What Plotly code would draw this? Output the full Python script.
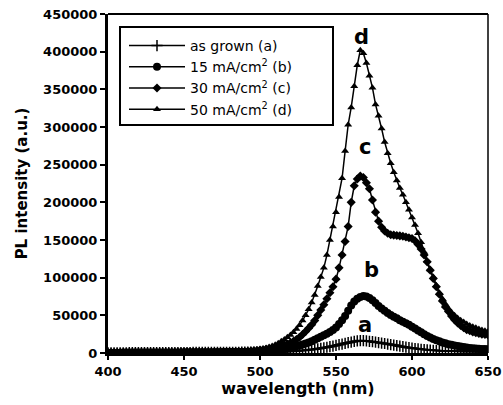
import plotly.graph_objects as go

wavelength = list(range(400, 651, 2))

pl_a = [300, 300, 300, 350, 350, 350, 350, 400, 400, 400,
        400, 450, 450, 450, 450, 500, 500, 500, 500, 550,
        550, 550, 600, 600, 600, 650, 650, 650, 700, 700,
        700, 750, 750, 800, 800, 800, 850, 850, 900, 900,
        950, 950, 1000, 1000, 1050, 1100, 1100, 1150, 1200, 1250,
        1300, 1350, 1400, 1450, 1500, 1550, 1600, 1700, 1800, 1900,
        2000, 2300, 2600, 2900, 3200, 3600, 4000, 4500, 5000, 5600,
        6200, 6900, 7600, 8400, 9200, 10100, 11000, 11900, 12800, 13700,
        14500, 15300, 16000, 16500, 16400, 16000, 15500, 15000, 14400, 13800,
        13200, 12600, 11900, 11200, 10500, 9800, 9100, 8400, 7700, 7100,
        6500, 6000, 5500, 5000, 4600, 4200, 3900, 3600, 3300, 3100,
        2900, 2700, 2550, 2400, 2300, 2200, 2100, 2000, 1950, 1900,
        1850, 1800, 1750, 1700, 1650, 1600]

pl_b = [400, 400, 450, 450, 450, 500, 500, 500, 550, 550,
        550, 600, 600, 600, 650, 650, 650, 700, 700, 700,
        750, 750, 750, 800, 800, 850, 850, 900, 900, 950,
        950, 1000, 1000, 1050, 1050, 1100, 1100, 1150, 1200, 1200,
        1250, 1300, 1300, 1350, 1400, 1450, 1500, 1550, 1600, 1700,
        1800, 2000, 2300, 2600, 3000, 3400, 3900, 4500, 5200, 6000,
        7000, 8000, 9000, 10000, 11200, 12500, 14000, 15500, 17500, 19500,
        21500, 23500, 25500, 28000, 30500, 34000, 38500, 43500, 49000, 56000,
        63000, 68500, 72000, 74500, 75500, 75000, 73000, 70000, 66500, 62500,
        59000, 56000, 53000, 50500, 48000, 46000, 43500, 41500, 39500, 37500,
        35000, 32500, 30000, 27500, 25000, 22500, 20500, 18500, 17000, 15500,
        14000, 12800, 11700, 10800, 10000, 9200, 8500, 7900, 7300, 6800,
        6400, 6000, 5700, 5400, 5200, 5000]

pl_c = [600, 650, 650, 700, 700, 700, 750, 750, 800, 800,
        800, 850, 850, 900, 900, 900, 950, 950, 1000, 1000,
        1000, 1050, 1050, 1100, 1100, 1150, 1150, 1200, 1200, 1250,
        1300, 1300, 1350, 1400, 1400, 1450, 1500, 1550, 1600, 1650,
        1700, 1750, 1800, 1900, 1950,
        2000, 2300, 2600, 3000, 3400, 3800, 4300, 4900, 5600, 6400,
        7300, 8300, 9400, 10600, 12000, 13500, 15500, 18000, 21000, 24500,
        28500, 33000, 37500, 43000, 50000, 57000, 64000, 72000, 80000, 88000,
        98000, 113000, 130000, 148000, 168000, 200000, 222000, 231000, 235000, 233000,
        226000, 218000, 203000, 187000, 175000, 167000, 162000, 159000, 157000, 156500,
        156000, 155500, 155000, 154000, 153000, 152000, 149000, 144000, 138000, 130000,
        121000, 110000, 99000, 88000, 78000, 69000, 61000, 55000, 49000, 44000,
        40000, 36500, 33500, 31000, 29500, 28000, 27000, 26000, 25000, 24500,
        24000]

pl_d = [800, 800, 850, 850, 900, 900, 900, 950, 950, 1000,
        1000, 1000, 1050, 1050, 1100, 1100, 1100, 1150, 1150, 1200,
        1200, 1250, 1250, 1300, 1300, 1350, 1350, 1400, 1400, 1450,
        1500, 1500, 1550, 1600, 1650, 1700, 1750, 1800, 1850, 1900,
        2000, 2050, 2150, 2250, 2350,
        2500, 2800, 3200, 3700, 4300, 5000, 5800, 6800, 8000, 9400,
        11000, 13000, 15500, 18000, 21000, 24000, 27500, 32000, 37000, 43000,
        50000, 58000, 67000, 77000, 89000, 101000, 113000, 130000, 150000, 168000,
        187000, 207000, 232000, 268000, 303000, 326000, 354000, 382000, 402000, 398000,
        385000, 368000, 352000, 330000, 315000, 298000, 280000, 265000, 252000, 240000,
        229000, 219000, 210000, 200000, 190000, 180000, 170000, 159000, 147000, 134000,
        122000, 111000, 101000, 90000, 80000, 72000, 65000, 59000, 54000, 50000,
        46500, 43500, 41000, 38500, 36500, 35000, 33500, 32000, 30500, 29500,
        28500]

series_names = ["as grown (a)", "15 mA/cm<sup>2</sup> (b)",
                "30 mA/cm<sup>2</sup> (c)", "50 mA/cm<sup>2</sup> (d)"]
curve_labels = ["a", "b", "c", "d"]
label_x = [569, 573.5, 569, 567]
label_y = [37000, 110000, 273000, 419000]

symbols = ["cross-thin", "circle", "diamond", "triangle-up"]
sizes = [8, 8, 7, 7]

fig = go.Figure()
for name, ys, sym, sz in zip(series_names, [pl_a, pl_b, pl_c, pl_d], symbols, sizes):
    fig.add_trace(go.Scatter(
        x=wavelength, y=ys, name=name, mode="lines+markers",
        line=dict(color="black", width=1.5),
        marker=dict(symbol=sym, size=sz, color="black",
                    line=dict(color="black", width=1.5 if sym == "cross-thin" else 0)),
    ))

for t, x, y in zip(curve_labels, label_x, label_y):
    fig.add_annotation(x=x, y=y, text=t, showarrow=False,
                       font=dict(family="DejaVu Sans", size=21, color="black", weight="bold"))

# top and right frame lines
fig.add_shape(type="line", xref="x domain", yref="y domain", x0=0, x1=1, y0=1, y1=1,
              line=dict(color="black", width=2))
fig.add_shape(type="line", xref="x domain", yref="y domain", x0=1, x1=1, y0=0, y1=1,
              line=dict(color="black", width=1.5))
# legend frame
fig.add_shape(type="rect", xref="paper", yref="paper",
              x0=(120 - 108) / 380, x1=(333 - 108) / 380,
              y0=(353 - 125) / 339, y1=(353 - 27) / 339,
              line=dict(color="black", width=2), fillcolor="white", layer="below")

axis_font = dict(family="DejaVu Sans", size=13, color="black", weight="bold")
fig.update_layout(
    width=503, height=405,
    margin=dict(l=108, r=15, t=14, b=52),
    paper_bgcolor="white", plot_bgcolor="white",
    showlegend=True,
    legend=dict(x=(124 - 108) / 380, y=(353 - 30) / 339, xanchor="left", yanchor="top",
                bgcolor="rgba(0,0,0,0)", borderwidth=0,
                font=dict(family="DejaVu Sans", size=14, color="black"),
                tracegroupgap=0, itemwidth=56),
    xaxis=dict(range=[400, 650], tickvals=[400, 450, 500, 550, 600, 650],
               showline=True, linecolor="black", linewidth=3, showgrid=False, zeroline=False,
               ticks="outside", ticklen=4, tickwidth=1.5, tickcolor="black",
               tickfont=axis_font, automargin=False, ticklabeloverflow="allow",
               title=dict(text="wavelength (nm)", standoff=4,
                          font=dict(family="DejaVu Sans", size=16, color="black", weight="bold"))),
    yaxis=dict(range=[0, 450000], tickvals=[0, 50000, 100000, 150000, 200000, 250000, 300000, 350000, 400000, 450000],
               ticktext=["0", "50000", "100000", "150000", "200000", "250000", "300000", "350000", "400000", "450000"],
               showline=True, linecolor="black", linewidth=3, showgrid=False, zeroline=False,
               ticks="outside", ticklen=5, tickwidth=1.5, tickcolor="black",
               tickfont=axis_font, automargin=False, ticklabeloverflow="allow",
               title=dict(text="PL intensity (a.u.)", standoff=12,
                          font=dict(family="DejaVu Sans", size=15, color="black", weight="bold"))),
)

fig.write_html("out.html", config={"displayModeBar": False},
               post_script="document.body.style.margin='0';document.body.style.overflow='hidden';")
